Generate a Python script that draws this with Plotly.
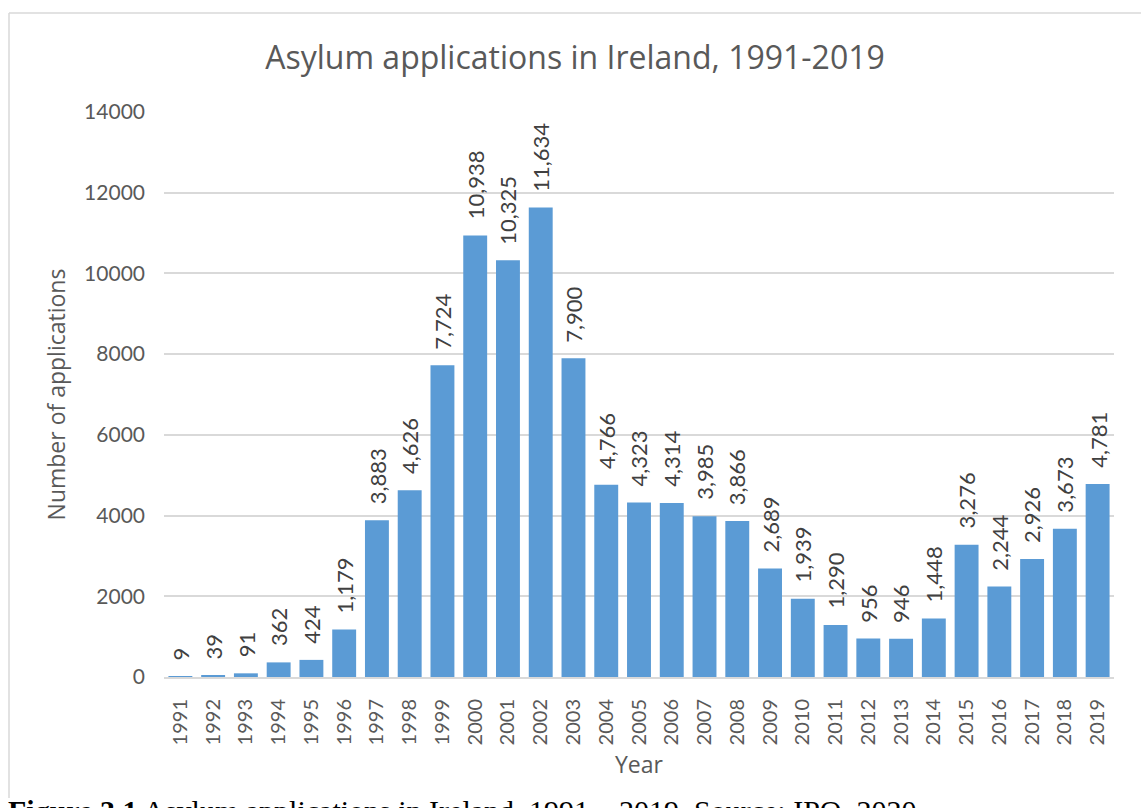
import plotly.graph_objects as go

years = [str(y) for y in range(1991, 2020)]
applications = [9, 39, 91, 362, 424, 1179, 3883, 4626, 7724, 10938, 10325, 11634, 7900,
                4766, 4323, 4314, 3985, 3866, 2689, 1939, 1290, 956, 946, 1448, 3276,
                2244, 2926, 3673, 4781]
y_ticks = [0, 2000, 4000, 6000, 8000, 10000, 12000, 14000]

W, H = 1141, 808
L, R, T, B = 164, 27, 112, 131
pw, ph = W - L - R, H - T - B

def px_x(p):
    return (p - L) / pw

def px_y(p):
    return (H - B - p) / ph

fig = go.Figure()
fig.add_trace(go.Bar(x=years, y=applications, marker=dict(color="#5b9bd5", line=dict(width=0)),
                     hoverinfo="x+y"))

for i, v in enumerate(applications):
    fig.add_annotation(x=i, y=v, xref="x", yref="y", text=f"{v:,}", showarrow=False,
                       textangle=-90, yanchor="bottom", xanchor="center", yshift=14,
                       font=dict(family="Lato", size=22, color="#404040"))

# chart border (top and left visible; right and bottom fall outside the picture / behind caption)
fig.add_shape(type="line", xref="paper", yref="paper",
              x0=px_x(9), x1=px_x(1160), y0=px_y(13), y1=px_y(13),
              line=dict(color="#d9d9d9", width=1.5), layer="below")
fig.add_shape(type="line", xref="paper", yref="paper",
              x0=px_x(9), x1=px_x(9), y0=px_y(13), y1=px_y(798),
              line=dict(color="#d9d9d9", width=1.5), layer="below")

# caption
fig.add_annotation(xref="paper", yref="paper", x=px_x(6), y=px_y(792), xanchor="left", yanchor="top",
                   showarrow=False, align="left",
                   text="<b>Figure 3.1</b> Asylum applications in Ireland, 1991 \u2013 2019. Source: IPO, 2020",
                   font=dict(family="Liberation Serif", size=30, color="#000000"))

fig.update_layout(
    width=W, height=H,
    margin=dict(l=L, r=R, t=T, b=B, pad=0),
    paper_bgcolor="white", plot_bgcolor="white",
    bargap=0.27,
    showlegend=False,
    title=dict(text="Asylum applications in Ireland, 1991-2019", x=575 / W, xref="container",
               xanchor="center", y=1 - 58 / H, yref="container", yanchor="middle",
               font=dict(family="Open Sans", size=32, color="#595959")),
    font=dict(family="Lato", color="#595959"),
)
fig.update_yaxes(range=[0, 14000], tickvals=y_ticks, ticktext=[str(t) for t in y_ticks],
                 showgrid=True, gridcolor="#d9d9d9", gridwidth=1.5, zeroline=False,
                 tickfont=dict(family="Lato", size=21, color="#595959"), ticklabelstandoff=18,
                 title=dict(text="Number of applications", standoff=12,
                            font=dict(family="Open Sans", size=23, color="#595959")))
fig.update_xaxes(type="category", range=[-0.5, len(years) - 0.5], tickangle=-90,
                 showline=True, linecolor="#d9d9d9", linewidth=2,
                 tickfont=dict(family="Lato", size=20, color="#595959"), ticklabelstandoff=12,
                 title=dict(text="Year", standoff=12,
                            font=dict(family="Open Sans", size=23, color="#595959")))

fig.write_html("out.html")
